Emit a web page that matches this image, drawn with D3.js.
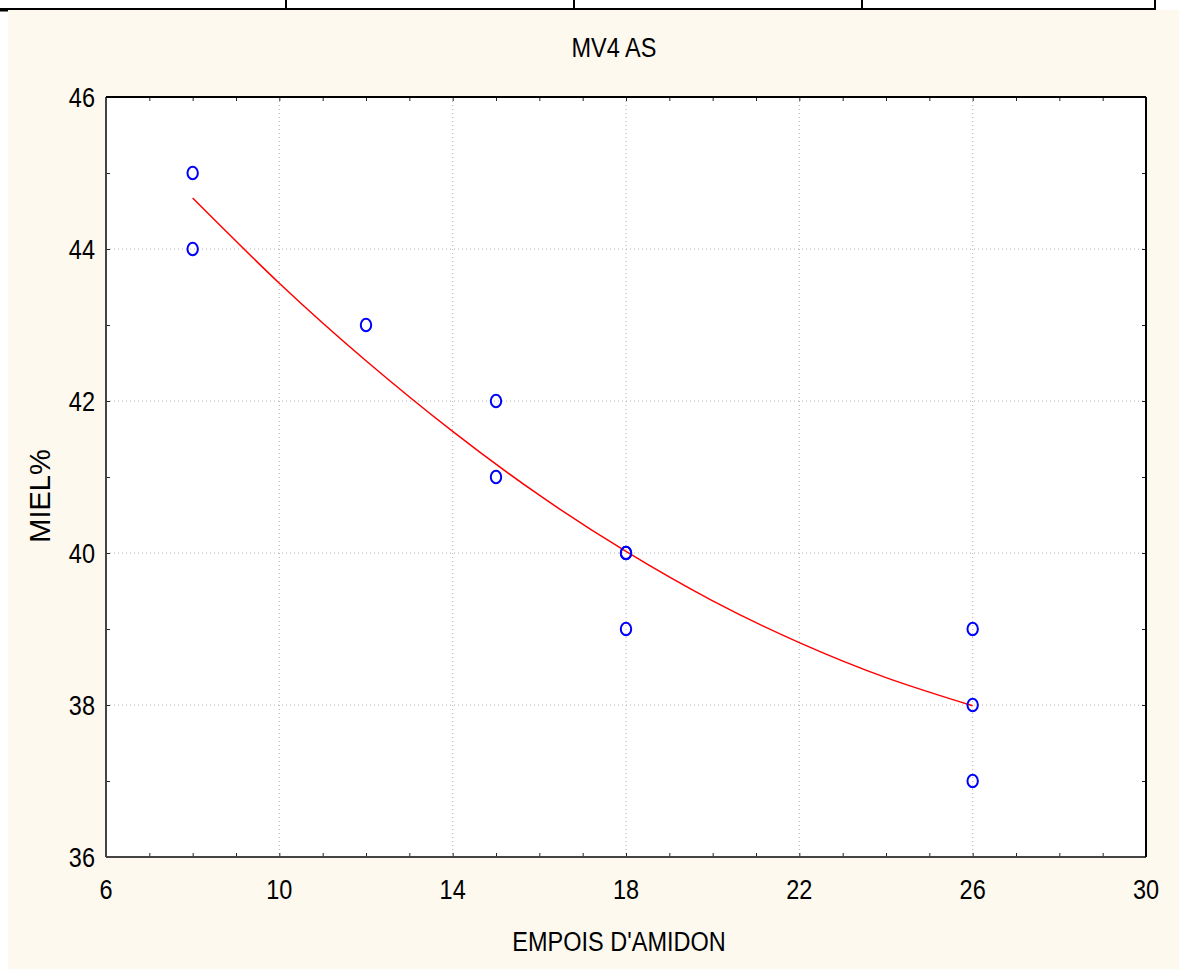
<!DOCTYPE html>
<html>
<head>
<meta charset="utf-8">
<script src="https://cdn.jsdelivr.net/npm/d3@7"></script>
<style>
  body { margin: 0; background: #ffffff; }
  text { font-family: "Liberation Sans", Arial, sans-serif; fill: #000; }
</style>
</head>
<body>
<div id="chart"></div>
<script>
// Chart data
var empois = [8, 8, 12, 15, 15, 18, 18, 18, 26, 26, 26];
var miel = [45, 44, 43, 42, 41, 40, 40, 39, 39, 38, 37];

// fitted curve
var fitX = [8, 10, 12, 14, 16, 18, 20, 22, 24, 26];
var fitY = [44.67, 43.55, 42.53, 41.60, 40.76, 40.02, 39.37, 38.82, 38.36, 37.99];

var xTicks = [6, 10, 14, 18, 22, 26, 30];
var yTicks = [36, 38, 40, 42, 44, 46];

var svgWidth = 1179;
var svgHeight = 969;

var margin = { top: 97, right: 33, bottom: 112, left: 106 };
var width = 1146 - margin.left;
var height = 857 - margin.top;

// the original uses a condensed face; squeeze Liberation Sans to match
var narrow = 0.84;

var svg = d3.select("#chart")
  .append("svg")
  .attr("width", svgWidth)
  .attr("height", svgHeight);

// cream page background
svg.append("rect")
  .attr("x", 8).attr("y", 10)
  .attr("width", svgWidth - 8).attr("height", svgHeight - 10)
  .attr("fill", "#fef9ef");

// table strip at the top
svg.append("line")
  .attr("x1", 0).attr("x2", 1156).attr("y1", 9).attr("y2", 9)
  .attr("stroke", "#000").attr("stroke-width", 2);
svg.append("line")
  .attr("x1", 0).attr("x2", 8).attr("y1", 10.5).attr("y2", 10.5)
  .attr("stroke", "#000").attr("stroke-width", 2);
[286, 574, 862, 1155].forEach(function(x) {
  svg.append("line")
    .attr("x1", x).attr("x2", x).attr("y1", 0).attr("y2", 9)
    .attr("stroke", "#000").attr("stroke-width", 2);
});

var chartGroup = svg.append("g")
  .attr("transform", `translate(${margin.left}, ${margin.top})`);

// scales
var xLinearScale = d3.scaleLinear().domain([6, 30]).range([0, width]);
var yLinearScale = d3.scaleLinear().domain([36, 46]).range([height, 0]);

// plot background
chartGroup.append("rect")
  .attr("width", width).attr("height", height)
  .attr("fill", "#fff");

// dotted grid
chartGroup.selectAll(".vgrid")
  .data(xTicks.slice(1, -1)).enter()
  .append("line")
  .attr("x1", d => xLinearScale(d)).attr("x2", d => xLinearScale(d))
  .attr("y1", 0).attr("y2", height)
  .attr("stroke", "#b4b4b4").attr("stroke-dasharray", "1,3");
chartGroup.selectAll(".hgrid")
  .data(yTicks.slice(1, -1)).enter()
  .append("line")
  .attr("x1", 0).attr("x2", width)
  .attr("y1", d => yLinearScale(d)).attr("y2", d => yLinearScale(d))
  .attr("stroke", "#b4b4b4").attr("stroke-dasharray", "1,3");

// axes: ticks every unit, pointing inwards
var xMinor = d3.range(6, 31, 1);
var yMinor = d3.range(36, 47, 1);

var bottomAxis = d3.axisBottom(xLinearScale).tickValues(xMinor).tickSize(-4).tickFormat("");
var topAxis = d3.axisTop(xLinearScale).tickValues(xMinor).tickSize(-4).tickFormat("");
var leftAxis = d3.axisLeft(yLinearScale).tickValues(yMinor).tickSize(-4).tickFormat("");
var rightAxis = d3.axisRight(yLinearScale).tickValues(yMinor).tickSize(-4).tickFormat("");

chartGroup.append("g").attr("transform", `translate(0, ${height})`).call(bottomAxis);
chartGroup.append("g").call(topAxis);
chartGroup.append("g").call(leftAxis);
chartGroup.append("g").attr("transform", `translate(${width}, 0)`).call(rightAxis);
chartGroup.selectAll(".domain").remove();
chartGroup.selectAll(".tick line").attr("stroke", "#222");

// frame
chartGroup.append("line").attr("x1", 0).attr("x2", 0).attr("y1", 0).attr("y2", height)
  .attr("stroke", "#444").attr("stroke-width", 2);
chartGroup.append("line").attr("x1", 0).attr("x2", width).attr("y1", height).attr("y2", height)
  .attr("stroke", "#444").attr("stroke-width", 2);
chartGroup.append("line").attr("x1", 0).attr("x2", width).attr("y1", 0).attr("y2", 0)
  .attr("stroke", "#000").attr("stroke-width", 2);
chartGroup.append("line").attr("x1", width).attr("x2", width).attr("y1", 0).attr("y2", height)
  .attr("stroke", "#000").attr("stroke-width", 2);

// tick labels
chartGroup.selectAll(".xlab")
  .data(xTicks).enter()
  .append("text")
  .attr("transform", d => `translate(${xLinearScale(d)}, ${height + 42}) scale(${narrow}, 1)`)
  .attr("text-anchor", "middle")
  .attr("font-size", "28px")
  .text(d => d);
chartGroup.selectAll(".ylab")
  .data(yTicks).enter()
  .append("text")
  .attr("transform", d => `translate(-11, ${yLinearScale(d) + 10}) scale(${narrow}, 1)`)
  .attr("text-anchor", "end")
  .attr("font-size", "28px")
  .text(d => d);

// fitted curve
var fitData = fitX.map((x, i) => ({ x: x, y: fitY[i] }));
var line = d3.line()
  .x(d => xLinearScale(d.x))
  .y(d => yLinearScale(d.y))
  .curve(d3.curveNatural);
chartGroup.append("path")
  .datum(fitData)
  .attr("d", line)
  .attr("fill", "none")
  .attr("stroke", "#ff0000")
  .attr("stroke-width", 1.5);

// points
var pts = empois.map((x, i) => ({ x: x, y: miel[i] }));
chartGroup.selectAll(".pt")
  .data(pts).enter()
  .append("ellipse")
  .attr("cx", d => xLinearScale(d.x))
  .attr("cy", d => yLinearScale(d.y))
  .attr("rx", 5.2)
  .attr("ry", 6.3)
  .attr("fill", "none")
  .attr("stroke", "#0000ff")
  .attr("stroke-width", 2);

// titles
svg.append("text")
  .attr("transform", `translate(614, 57) scale(${narrow}, 1)`)
  .attr("text-anchor", "middle")
  .attr("font-size", "28px")
  .text("MV4 AS");
svg.append("text")
  .attr("transform", `translate(619, 951) scale(${narrow}, 1)`)
  .attr("text-anchor", "middle")
  .attr("font-size", "28px")
  .text("EMPOIS D'AMIDON");
svg.append("text")
  .attr("transform", "translate(50, 496) rotate(-90)")
  .attr("text-anchor", "middle")
  .attr("font-size", "29px")
  .text("MIEL%");
</script>
</body>
</html>
